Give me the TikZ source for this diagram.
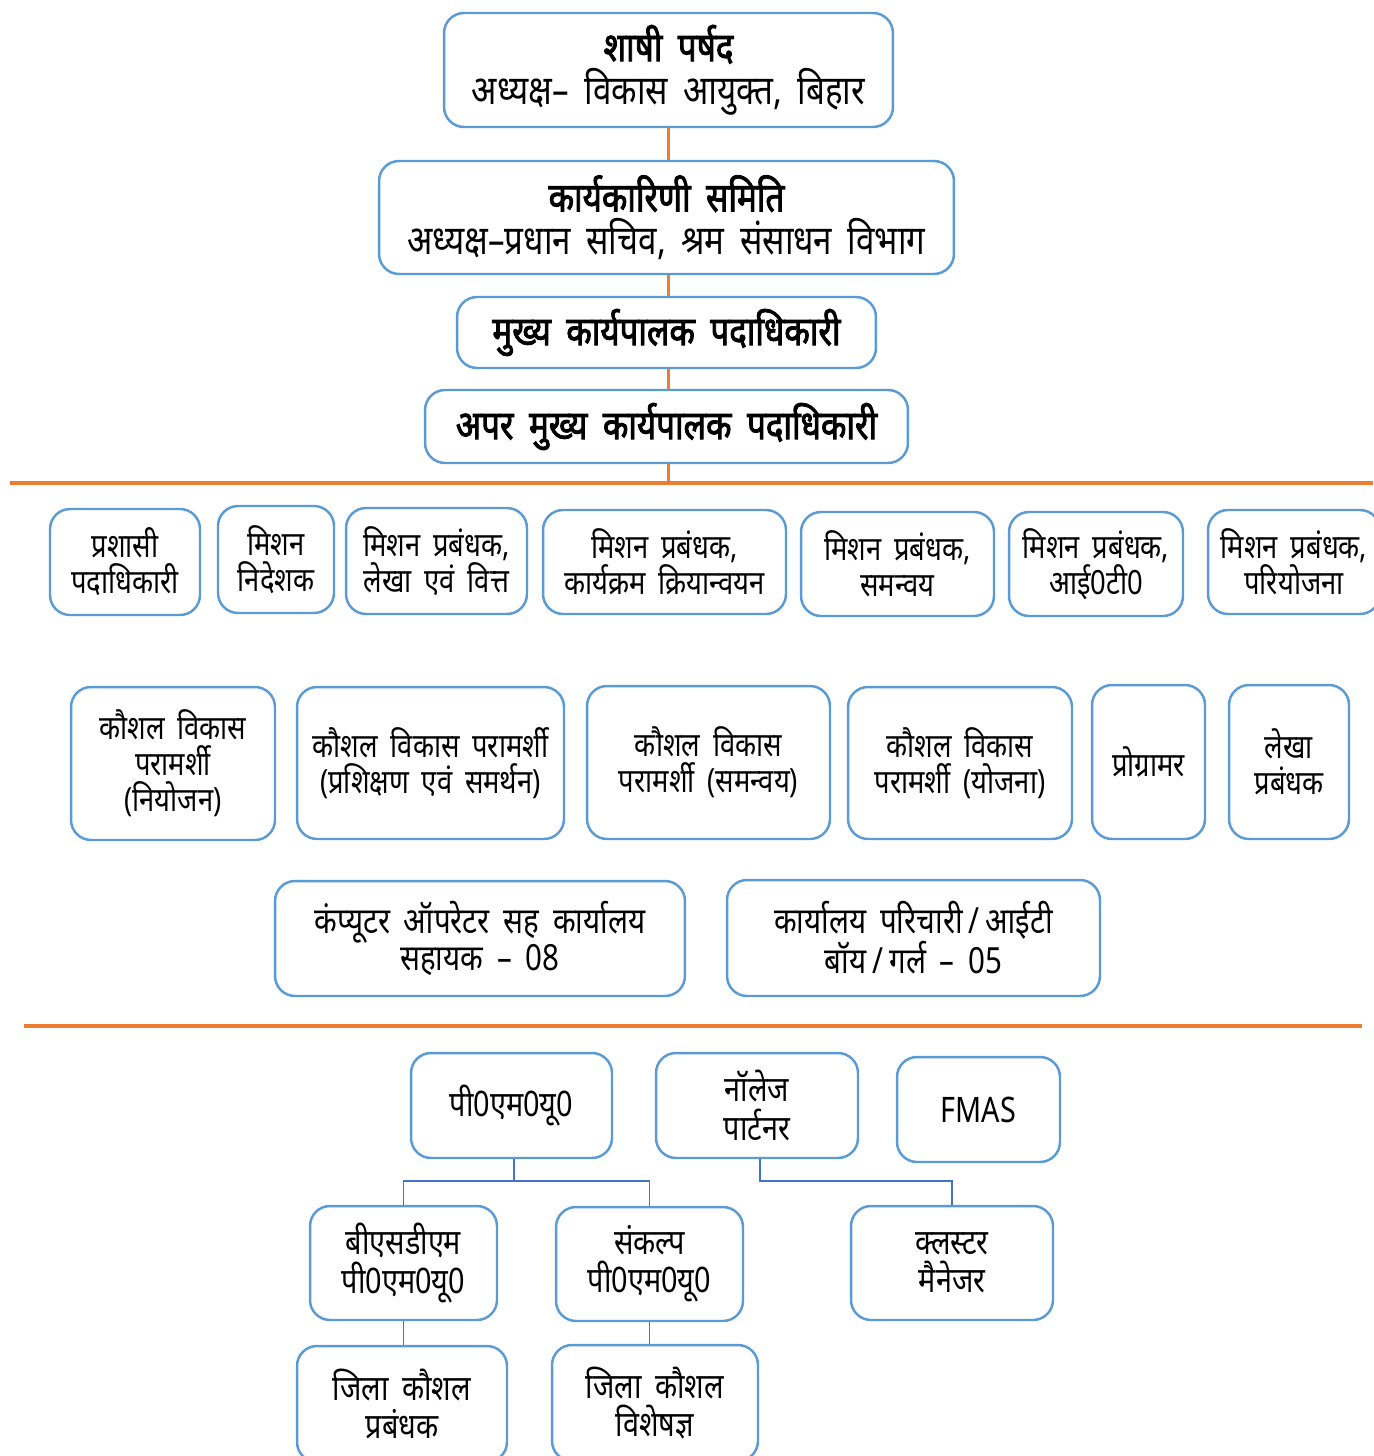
\documentclass[tikz,border=0pt]{standalone}
\usepackage{fontspec}
\setmainfont{Noto Sans}[Script=Devanagari, FakeStretch=0.82, WordSpace=1.8]
\newfontfamily\boldhindi{Noto Sans}[Script=Devanagari, FakeStretch=0.82, WordSpace=1.8, FakeBold=2.2]
\usepackage{tikz}
\usetikzlibrary{calc}
\definecolor{boxblue}{RGB}{91,155,213}
\definecolor{ruleorange}{RGB}{237,125,49}
\definecolor{linkblue}{RGB}{68,114,196}
\tikzstyle{post}    = [rectangle, rounded corners=0.4cm, draw=boxblue, line width=1.4pt, fill=white, align=center, inner sep=0pt, font=\fontsize{19}{20.5}\selectfont]
\tikzstyle{staff}   = [post, font=\fontsize{20.5}{21}\selectfont]
\tikzstyle{unit}    = [post, font=\fontsize{20}{21.8}\selectfont]
\tikzstyle{head}    = [post, font=\fontsize{23}{24.5}\selectfont]
\tikzstyle{chief}   = [post, font=\fontsize{23}{24}\selectfont\boldhindi]
\tikzstyle{stem}    = [draw=ruleorange, line width=1.3pt]
\tikzstyle{divider} = [draw=ruleorange, line width=2.3pt]
\tikzstyle{link}    = [draw=linkblue, line width=1pt]

\begin{document}
\begin{tikzpicture}[x=0.02cm, y=-0.02cm]
    \useasboundingbox (0,0) rectangle (1373,1456);

    % governing chain
    \node (council)  [head, minimum width=8.98cm, minimum height=2.28cm] at (668.5,70)
        {{\boldhindi शाषी पर्षद}\\अध्यक्ष– विकास आयुक्त, बिहार};
    \node (executive) [head, minimum width=11.5cm, minimum height=2.26cm] at (666.5,217.5)
        {{\boldhindi कार्यकारिणी समिति}\\अध्यक्ष–प्रधान सचिव, श्रम संसाधन विभाग};
    \node (ceo)      [chief, minimum width=8.38cm, minimum height=1.42cm] at (666.5,332.5) {मुख्य कार्यपालक पदाधिकारी};
    \node (addlceo)  [chief, minimum width=9.66cm, minimum height=1.46cm] at (666.5,426.5) {अपर मुख्य कार्यपालक पदाधिकारी};

    \coordinate (ruleAleft)  at (10,483);
    \coordinate (ruleAright) at (1373,483);
    \coordinate (ruleBleft)  at (24,1026);
    \coordinate (ruleBright) at (1362,1026);

    \draw [stem] (council.south)   -- (council.south |- executive.north);
    \draw [stem] (council.south |- executive.south) -- (council.south |- ceo.north);
    \draw [stem] (council.south |- ceo.south) -- (council.south |- addlceo.north);
    \draw [stem] (council.south |- addlceo.south) -- (council.south |- ruleAleft);
    \draw [divider] (ruleAleft) -- (ruleAright);

    % mission level
    \node (admin)    [post, minimum width=3.0cm,  minimum height=2.12cm] at (125,562)    {प्रशासी\\पदाधिकारी};
    \node (director) [post, minimum width=2.32cm, minimum height=2.14cm] at (276,559.5)  {मिशन\\निदेशक};
    \node (mmfin)    [post, minimum width=3.62cm, minimum height=2.12cm] at (436.5,561)  {मिशन प्रबंधक,\\लेखा एवं वित्त};
    \node (mmprog)   [post, minimum width=4.86cm, minimum height=2.08cm] at (664.5,562)  {मिशन प्रबंधक,\\कार्यक्रम क्रियान्वयन};
    \node (mmcoord)  [post, minimum width=3.86cm, minimum height=2.08cm] at (897.5,564)  {मिशन प्रबंधक,\\समन्वय};
    \node (mmit)     [post, minimum width=3.48cm, minimum height=2.08cm] at (1096,564)   {मिशन प्रबंधक,\\आई0टी0};
    \node (mmproj)   [post, minimum width=3.44cm, minimum height=2.08cm] at (1294,562)   {मिशन प्रबंधक,\\परियोजना};

    % consultants
    \node (ksvplace) [post, minimum width=4.08cm, minimum height=3.06cm] at (173,763.5)   {कौशल विकास\\परामर्शी\\(नियोजन)};
    \node (ksvtrain) [post, minimum width=5.34cm, minimum height=3.04cm] at (430.5,763)   {कौशल विकास परामर्शी\\(प्रशिक्षण एवं समर्थन)};
    \node (ksvcoord) [post, minimum width=4.86cm, minimum height=3.06cm] at (708.5,762.5) {कौशल विकास\\परामर्शी (समन्वय)};
    \node (ksvplan)  [post, minimum width=4.48cm, minimum height=3.04cm] at (960,763)     {कौशल विकास\\परामर्शी (योजना)};
    \node (coder)    [post, minimum width=2.26cm, minimum height=3.08cm] at (1148.5,762)  {प्रोग्रामर};
    \node (accounts) [post, minimum width=2.4cm,  minimum height=3.08cm] at (1289,762)    {लेखा\\प्रबंधक};

    % office staff
    \node (operator) [staff, minimum width=8.2cm,  minimum height=2.3cm]  at (480,938.5)   {कंप्यूटर ऑपरेटर सह कार्यालय\\सहायक – 08};
    \node (attendant)[staff, minimum width=7.46cm, minimum height=2.32cm] at (913.5,938)   {कार्यालय परिचारी\,/\,आईटी\\बॉय\,/\,गर्ल – 05};

    \draw [divider] (ruleBleft) -- (ruleBright);

    % field units
    \node (pmu)      [unit, minimum width=4.02cm, minimum height=2.1cm]  at (511.5,1105.5) {पी0एम0यू0};
    \node (partner)  [unit, minimum width=4.04cm, minimum height=2.1cm]  at (757,1105.5)   {नॉलेज\\पार्टनर};
    \node (fmas)     [unit, minimum width=3.26cm, minimum height=2.1cm]  at (978.5,1109.5) {FMAS};

    \node (bsdm)     [unit, minimum width=3.74cm, minimum height=2.28cm] at (403.5,1263)   {बीएसडीएम\\पी0एम0यू0};
    \node (sankalp)  [unit, minimum width=3.74cm, minimum height=2.28cm] at (649.5,1264)   {संकल्प\\पी0एम0यू0};
    \node (cluster)  [unit, minimum width=4.04cm, minimum height=2.28cm] at (952,1263)     {क्लस्टर\\मैनेजर};

    \node (dsm)      [unit, minimum width=4.2cm,  minimum height=2.32cm] at (402,1404)     {जिला कौशल\\प्रबंधक};
    \node (dse)      [unit, minimum width=4.12cm, minimum height=2.32cm] at (655,1403)     {जिला कौशल\\विशेषज्ञ};

    \coordinate (pmubus)     at (514,1181);
    \coordinate (partnerbus) at (760,1181);

    \draw [link] (pmu.south -| pmubus) -- (pmubus);
    \draw [link] (bsdm.north) |- (pmubus) -| (sankalp.north);
    \draw [link] (partner.south -| partnerbus) -- (partnerbus) -| (cluster.north);
    \draw [link] (bsdm.south) -- (bsdm.south |- dsm.north);
    \draw [link] (sankalp.south) -- (sankalp.south |- dse.north);
\end{tikzpicture}
\end{document}
